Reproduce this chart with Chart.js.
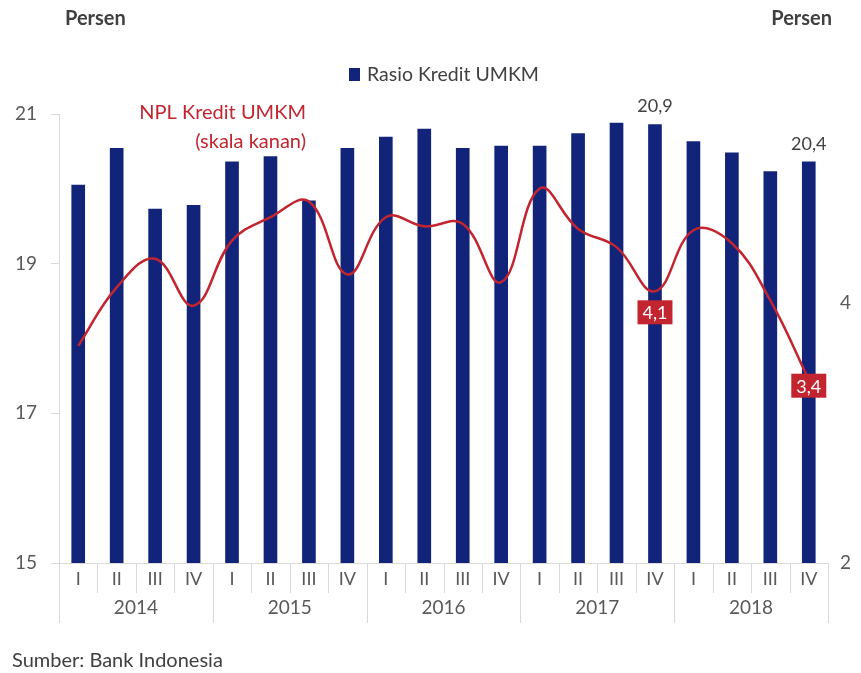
<!DOCTYPE html>
<html>
<head>
<meta charset="utf-8">
<script src="https://cdn.jsdelivr.net/npm/chart.js@4"></script>
<style>
  html, body { margin: 0; padding: 0; background: #ffffff; }
  #wrap { width: 861px; height: 673px; position: relative; }
</style>
</head>
<body>
<div id="wrap"><canvas id="c" width="861" height="673"></canvas></div>
<script>
// Quarterly categories and year groups
const quarters = ['I','II','III','IV','I','II','III','IV','I','II','III','IV','I','II','III','IV','I','II','III','IV'];
const years = ['2014','2015','2016','2017','2018'];

// Rasio Kredit UMKM (left axis, persen)
const rasioKredit = [20.05, 20.54, 19.73, 19.78, 20.36, 20.43, 19.84, 20.54,
                     20.69, 20.80, 20.54, 20.57, 20.57, 20.74, 20.88, 20.86,
                     20.63, 20.48, 20.23, 20.36];

// NPL Kredit UMKM (right axis, persen)
const nplKredit = [3.67, 4.12, 4.34, 3.98, 4.48, 4.66, 4.78, 4.22,
                   4.66, 4.59, 4.61, 4.16, 4.88, 4.57, 4.43, 4.09,
                   4.56, 4.46, 4.02, 3.41];

// Indices that carry a value label
const barLabelIdx = [15, 19];
const lineLabelIdx = [15, 19];

// Left and right axis ticks
const leftTicks = [15, 17, 19, 21];
const rightTicks = [2, 4];

const FONT = 'Lato, "Open Sans", sans-serif';
const NAVY = '#12247a';
const RED = '#c2252f';
const GREY_TXT = '#595959';
const GRID = '#d9d9d9';

const fmt = v => v.toFixed(1).replace('.', ',');

const decorations = {
  id: 'decorations',
  afterDatasetsDraw(chart) {
    const ctx = chart.ctx;
    const x = chart.scales.x;
    const area = chart.chartArea;
    const step = x.getPixelForValue(1) - x.getPixelForValue(0);
    ctx.save();

    // category separators below the axis
    ctx.strokeStyle = GRID;
    ctx.lineWidth = 1;
    for (let i = 0; i <= quarters.length; i++) {
      const px = Math.round(x.getPixelForValue(i) - step / 2) + 0.5;
      const isYear = i % 4 === 0;
      ctx.beginPath();
      ctx.moveTo(px, area.bottom);
      ctx.lineTo(px, area.bottom + (isYear ? 60 : 30));
      ctx.stroke();
    }

    // year labels
    ctx.fillStyle = GREY_TXT;
    ctx.font = '19px ' + FONT;
    ctx.textAlign = 'center';
    ctx.textBaseline = 'middle';
    years.forEach((y, k) => {
      const cx = (x.getPixelForValue(k * 4) + x.getPixelForValue(k * 4 + 3)) / 2;
      ctx.fillText(y, cx, area.bottom + 45);
    });

    // bar value labels
    const barMeta = chart.getDatasetMeta(0);
    ctx.fillStyle = '#404040';
    ctx.font = '18px ' + FONT;
    barLabelIdx.forEach(i => {
      const el = barMeta.data[i];
      ctx.fillText(fmt(rasioKredit[i]), el.x, el.y - 18);
    });

    // line value labels in red boxes
    const lineMeta = chart.getDatasetMeta(1);
    const offsets = [21, 6];
    ctx.font = '18px ' + FONT;
    lineLabelIdx.forEach((i, k) => {
      const el = lineMeta.data[i];
      const txt = fmt(nplKredit[i]);
      const w = ctx.measureText(txt).width + 10;
      const h = 24;
      const cy = el.y + offsets[k];
      ctx.fillStyle = RED;
      ctx.fillRect(el.x - w / 2, cy - h / 2, w, h);
      ctx.fillStyle = '#ffffff';
      ctx.fillText(txt, el.x, cy + 1);
    });

    // axis unit titles
    ctx.fillStyle = '#404040';
    ctx.font = 'bold 20px ' + FONT;
    ctx.textAlign = 'left';
    ctx.fillText('Persen', 65, 19);
    ctx.textAlign = 'right';
    ctx.fillText('Persen', 832, 19);

    // legend for the bars
    ctx.fillStyle = NAVY;
    ctx.fillRect(349, 68, 11, 13);
    ctx.fillStyle = '#404040';
    ctx.font = '19.5px ' + FONT;
    ctx.textAlign = 'left';
    ctx.fillText('Rasio Kredit UMKM', 367, 75);

    // annotation for the line series
    ctx.fillStyle = RED;
    ctx.font = '20px ' + FONT;
    ctx.textAlign = 'right';
    ctx.fillText('NPL Kredit UMKM', 306, 113);
    ctx.fillText('(skala kanan)', 306, 142);

    // source
    ctx.fillStyle = '#404040';
    ctx.font = '20px ' + FONT;
    ctx.textAlign = 'left';
    ctx.fillText('Sumber: Bank Indonesia', 12, 661);

    ctx.restore();
  }
};

new Chart(document.getElementById('c'), {
  type: 'bar',
  data: {
    labels: quarters,
    datasets: [
      {
        type: 'bar',
        label: 'Rasio Kredit UMKM',
        data: rasioKredit,
        backgroundColor: NAVY,
        barThickness: 13,
        yAxisID: 'y',
        order: 2
      },
      {
        type: 'line',
        label: 'NPL Kredit UMKM',
        data: nplKredit,
        borderColor: RED,
        borderWidth: 2.5,
        pointRadius: 0,
        tension: 0.4,
        fill: false,
        yAxisID: 'y1',
        order: 1
      }
    ]
  },
  options: {
    responsive: false,
    animation: false,
    layout: { padding: { top: 114, bottom: 0, left: 0, right: 0 } },
    plugins: {
      legend: { display: false },
      tooltip: { enabled: false }
    },
    scales: {
      x: {
        grid: { display: false, drawTicks: false },
        border: { display: true, color: GRID },
        ticks: { color: GREY_TXT, font: { family: FONT, size: 18 }, padding: 5, maxRotation: 0, autoSkip: false },
        afterFit(s) { s.height = 110; }
      },
      y: {
        position: 'left',
        min: 15, max: 21,
        afterBuildTicks(s) { s.ticks = leftTicks.map(v => ({ value: v })); },
        grid: { display: true, drawOnChartArea: false, drawTicks: true, tickLength: 8, color: GRID },
        border: { display: true, color: GRID },
        ticks: { color: GREY_TXT, font: { family: FONT, size: 19 }, padding: 14 },
        afterFit(s) { s.width = 59; }
      },
      y1: {
        position: 'right',
        min: 2, max: 5.454,
        afterBuildTicks(s) { s.ticks = rightTicks.map(v => ({ value: v })); },
        grid: { display: false, drawTicks: false },
        border: { display: false },
        ticks: { color: GREY_TXT, font: { family: FONT, size: 19 }, padding: 12 },
        afterFit(s) { s.width = 33; }
      }
    }
  },
  plugins: [decorations]
});
</script>
</body>
</html>
